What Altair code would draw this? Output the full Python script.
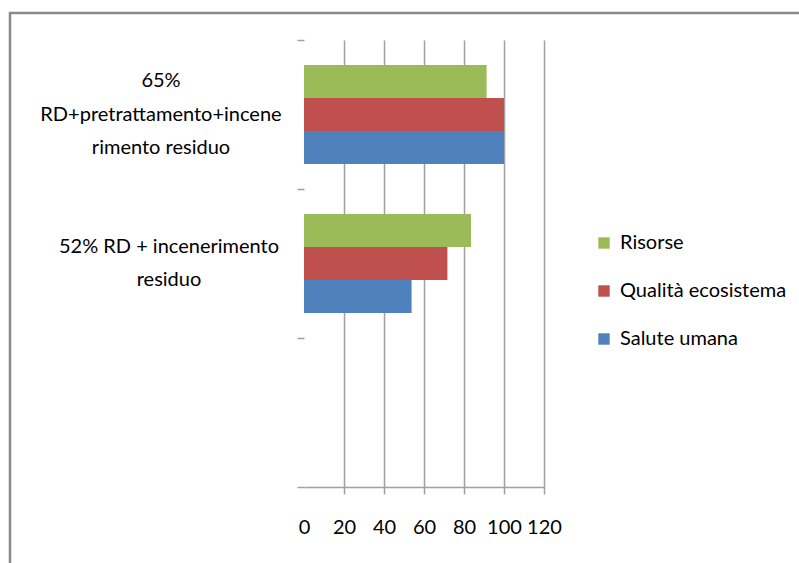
import altair as alt
import pandas as pd

FONT = "Lato"

scenarios = [
    "65%|RD+pretrattamento+incene|rimento residuo",
    "52% RD + incenerimento|residuo",
    " ",
]
impacts = ["Risorse", "Qualità ecosistema", "Salute umana"]
colors = ["#9BBB59", "#C0504D", "#4F81BD"]

risorse = [91.3, 83.5]
qualita = [100, 71.7]
salute = [100, 53.8]

x_ticks = [0, 20, 40, 60, 80, 100, 120]

rows = []
for i, sc in enumerate(scenarios[:2]):
    for imp, vals in zip(impacts, [risorse, qualita, salute]):
        rows.append({"scenario": sc, "impact": imp, "value": vals[i]})
df = pd.DataFrame(rows)

labels_df = pd.DataFrame(
    {"scenario": scenarios[:2], "nlines": [len(s.split("|")) for s in scenarios[:2]]}
)

GRAY = "#a0a0a0"
LH = 33.5

y_axis = alt.Axis(
    title=None,
    domain=False,
    ticks=True,
    tickBand="extent",
    tickSize=7,
    tickColor=GRAY,
    tickWidth=1.5,
    labels=False,
    grid=False,
)
y_scale = alt.Scale(domain=scenarios, paddingInner=0, paddingOuter=0)

bars = alt.Chart(df).mark_bar().encode(
    y=alt.Y("scenario:N", scale=y_scale, axis=y_axis),
    yOffset=alt.YOffset(
        "impact:N",
        sort=impacts,
        scale=alt.Scale(domain=impacts, paddingOuter=0.757, paddingInner=0),
    ),
    x=alt.X(
        "value:Q",
        scale=alt.Scale(domain=[0, 120], nice=False),
        axis=alt.Axis(
            title=None,
            values=x_ticks,
            grid=True,
            gridColor=GRAY,
            gridWidth=1.5,
            gridOpacity={"condition": {"test": "datum.value === 0", "value": 0}, "value": 1},
            tickOpacity={"condition": {"test": "datum.value === 0", "value": 0}, "value": 1},
            domainColor=GRAY,
            domainWidth=1.5,
            tickColor=GRAY,
            tickWidth=1.5,
            tickSize=7,
            labelPadding=23,
            labelFlush=False,
            labelFont=FONT,
            labelFontSize=20,
            labelColor="#000000",
        ),
    ),
    color=alt.Color(
        "impact:N",
        scale=alt.Scale(domain=impacts, range=colors),
        legend=alt.Legend(
            title=None,
            orient="none",
            legendX=290,
            legendY=193,
            symbolType="square",
            symbolSize=130,
            symbolStrokeWidth=0,
            labelFont=FONT,
            labelFontSize=20,
            labelColor="#000000",
            labelLimit=300,
            labelOffset=6,
            rowPadding=28,
            padding=0,
        ),
    ),
)


def label_layer(n, xpos):
    return (
        alt.Chart(labels_df)
        .transform_filter(f"datum.nlines == {n}")
        .mark_text(
            align="center",
            baseline="middle",
            lineBreak="|",
            lineHeight=LH,
            font=FONT,
            fontSize=20,
            color="#000000",
            dy=-(n - 1) * LH / 2,
        )
        .encode(
            y=alt.Y("scenario:N", scale=y_scale, axis=y_axis),
            x=alt.value(xpos),
            text="scenario:N",
        )
    )


frame = alt.Data(values=[{"k": 1}])
top_line = alt.Chart(frame).mark_rule(color="#8a8a8a", strokeWidth=2.5).encode(
    x=alt.value(-294), x2=alt.value(500), y=alt.value(-27)
)
left_line = alt.Chart(frame).mark_rule(color="#8a8a8a", strokeWidth=2.5).encode(
    x=alt.value(-294), y=alt.value(-28), y2=alt.value(530)
)

chart = alt.layer(
    bars, label_layer(3, -143), label_layer(2, -135), top_line, left_line
).properties(
    width=240,
    height=447,
    padding={"left": 304, "top": 40, "right": 255, "bottom": 76},
    autosize=alt.AutoSizeParams(type="none"),
    background="#ffffff",
).configure_view(stroke=None)

chart.save("out.html", embed_options={"renderer": "svg", "actions": False})
